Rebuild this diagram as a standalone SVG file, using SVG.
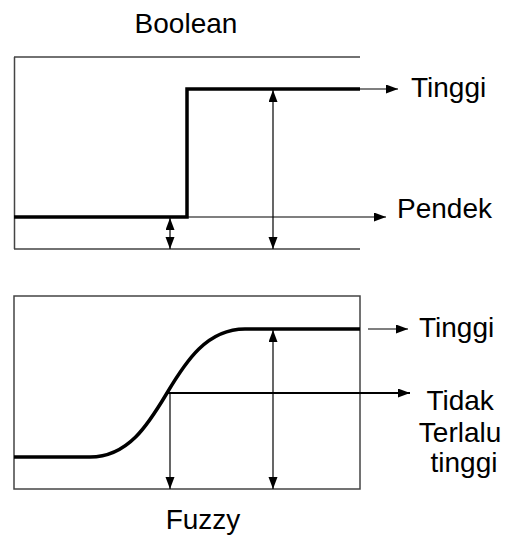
<svg xmlns="http://www.w3.org/2000/svg" width="509" height="540" viewBox="0 0 509 540">
  <style>
    .frame { fill: none; stroke: #444; stroke-width: 1.5; }
    .curve { fill: none; stroke: #000; stroke-width: 3.5; }
    .thin { fill: none; stroke: #000; stroke-width: 1.2; }
    .mid { fill: none; stroke: #000; stroke-width: 2; }
    .label { font-family: "Liberation Sans", Arial, sans-serif; font-size: 28px; fill: #000; }
  </style>
  <defs>
    <marker id="head" markerUnits="userSpaceOnUse" markerWidth="13" markerHeight="10" refX="12" refY="4.5" orient="auto-start-reverse">
      <path d="M0,0 L12,4.5 L0,9 Z" fill="#000"/>
    </marker>
  </defs>

  <g id="boolean-title"><text class="label" x="186" y="33" text-anchor="middle">Boolean</text></g>

  <g id="boolean-panel">
    <path class="frame" d="M14,57 H360 M14.5,57 V249 M14,249 H360"/>
    <path class="curve" d="M14,217 H187 V89 H360"/>
  </g>

  <g id="fuzzy-panel">
    <rect class="frame" x="14" y="296" width="346" height="193"/>
    <path class="curve" d="M14,457 H90 C128,457 148,425 167,393 C186,361 207,329 245,329 H360"/>
  </g>

  <g id="connectors">
    <line class="thin" x1="360" y1="89" x2="398" y2="89" marker-end="url(#head)"/>
    <line class="thin" x1="187" y1="217" x2="386" y2="217" marker-end="url(#head)"/>
    <line class="thin" x1="170" y1="218" x2="170" y2="249" marker-start="url(#head)" marker-end="url(#head)"/>
    <line class="thin" x1="273" y1="90" x2="273" y2="249" marker-start="url(#head)" marker-end="url(#head)"/>
    <line class="thin" x1="368" y1="329" x2="408" y2="329" marker-end="url(#head)"/>
    <line class="mid" x1="167" y1="393" x2="410" y2="393" marker-end="url(#head)"/>
    <line class="thin" x1="170" y1="393" x2="170" y2="489" marker-end="url(#head)"/>
    <line class="thin" x1="273" y1="330" x2="273" y2="489" marker-start="url(#head)" marker-end="url(#head)"/>
  </g>

  <g id="label-tinggi-top"><text class="label" x="411" y="97">Tinggi</text></g>
  <g id="label-pendek"><text class="label" x="397" y="218">Pendek</text></g>
  <g id="label-tinggi-bottom"><text class="label" x="419" y="337">Tinggi</text></g>
  <g id="label-tidak-terlalu-tinggi">
    <text class="label" text-anchor="middle">
      <tspan x="464" y="410">Tidak</tspan>
      <tspan x="464" y="442">Terlalu</tspan>
      <tspan x="464" y="472">tinggi</tspan>
    </text>
  </g>
  <g id="fuzzy-title"><text class="label" x="203" y="529" text-anchor="middle">Fuzzy</text></g>
</svg>
